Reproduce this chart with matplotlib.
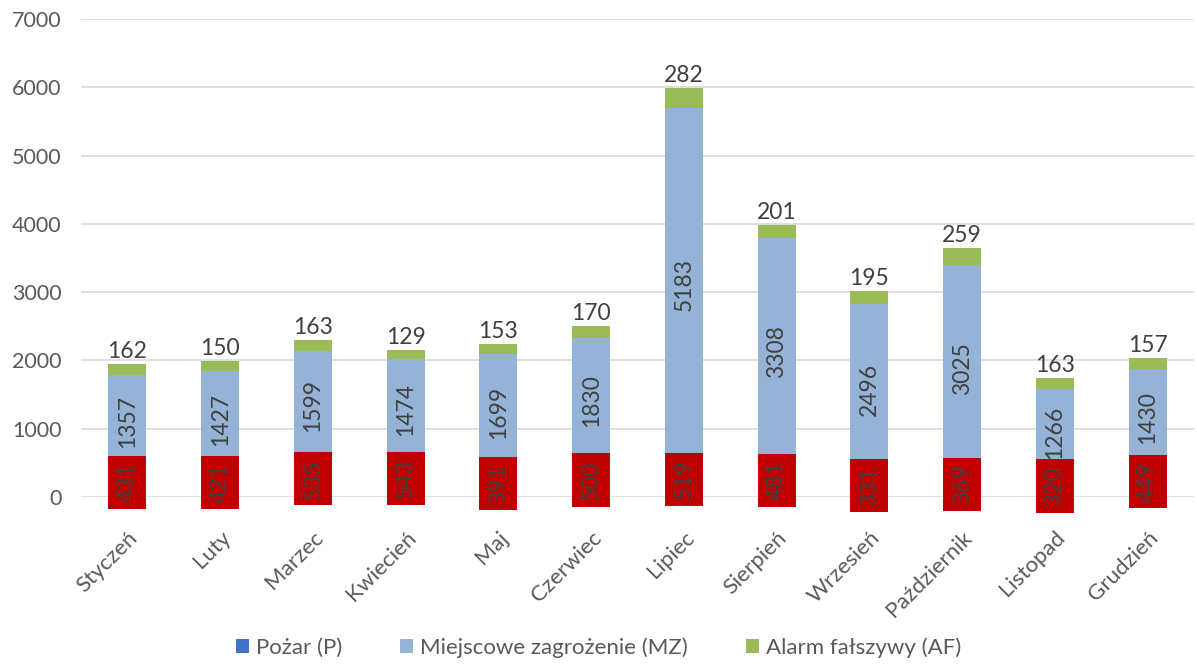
import numpy as np
import matplotlib.pyplot as plt
from matplotlib.patches import Rectangle

plt.rcParams['font.family'] = ['Lato', 'DejaVu Sans']

months = ['Styczeń', 'Luty', 'Marzec', 'Kwiecień', 'Maj', 'Czerwiec',
          'Lipiec', 'Sierpień', 'Wrzesień', 'Październik', 'Listopad', 'Grudzień']
pozar = [431, 421, 535, 543, 391, 500, 519, 481, 331, 369, 320, 449]
mz = [1357, 1427, 1599, 1474, 1699, 1830, 5183, 3308, 2496, 3025, 1266, 1430]
af = [162, 150, 163, 129, 153, 170, 282, 201, 195, 259, 163, 157]

x = np.arange(len(months))
p = np.array(pozar)
m = np.array(mz)
a = np.array(af)
w = 0.41

fig = plt.figure(figsize=(11.97, 6.65), dpi=100)
ax = fig.add_axes([0.0677, 0.2526, 0.9298, 0.7188])

ax.bar(x, p, w, color='#4472C4', label='Pożar (P)', zorder=2)
ax.bar(x, m, w, bottom=p, color='#95B3D7', label='Miejscowe zagrożenie (MZ)', zorder=2)
ax.bar(x, a, w, bottom=p + m, color='#9BBB59', label='Alarm fałszywy (AF)', zorder=2)

# red label boxes for P (fixed height, centred on the segment)
box_h = 780
for xi, pi in zip(x, p):
    ax.add_patch(Rectangle((xi - w / 2, pi / 2 - box_h / 2), w, box_h,
                           facecolor='#C00000', linewidth=0, zorder=3, clip_on=False))
    ax.text(xi, pi / 2, str(pi), rotation=90, ha='center', va='center',
            fontsize=16.5, color='#404040', zorder=4)

for xi, pi, mi, ai in zip(x, p, m, a):
    ax.text(xi, pi + mi / 2, str(mi), rotation=90, ha='center', va='center',
            fontsize=16.5, color='#404040', zorder=4)
    ax.text(xi, pi + mi + ai + 30, str(ai), ha='center', va='bottom',
            fontsize=16.5, color='#404040', zorder=4)

ax.set_xlim(-0.5, len(months) - 0.5)
ax.set_ylim(0, 7000)
ax.set_yticks(range(0, 7001, 1000))
ax.tick_params(axis='y', length=0, labelsize=15.5, labelcolor='#595959', pad=14)
ax.tick_params(axis='x', length=0, labelsize=16, labelcolor='#595959', pad=22)
ax.set_xticks(x)
ax.set_xticklabels(months, rotation=45, ha='right', rotation_mode='anchor')
ax.grid(axis='y', color='#D9D9D9', linewidth=1.2, zorder=0)
for s in ax.spines.values():
    s.set_visible(False)

fig.legend(loc='center', bbox_to_anchor=(0.5, 0.026), ncol=3, frameon=False,
           fontsize=16, handlelength=0.6, handleheight=0.6, handletextpad=0.3,
           columnspacing=2.6, labelcolor='#595959')

fig.savefig('out.png', dpi=100)
